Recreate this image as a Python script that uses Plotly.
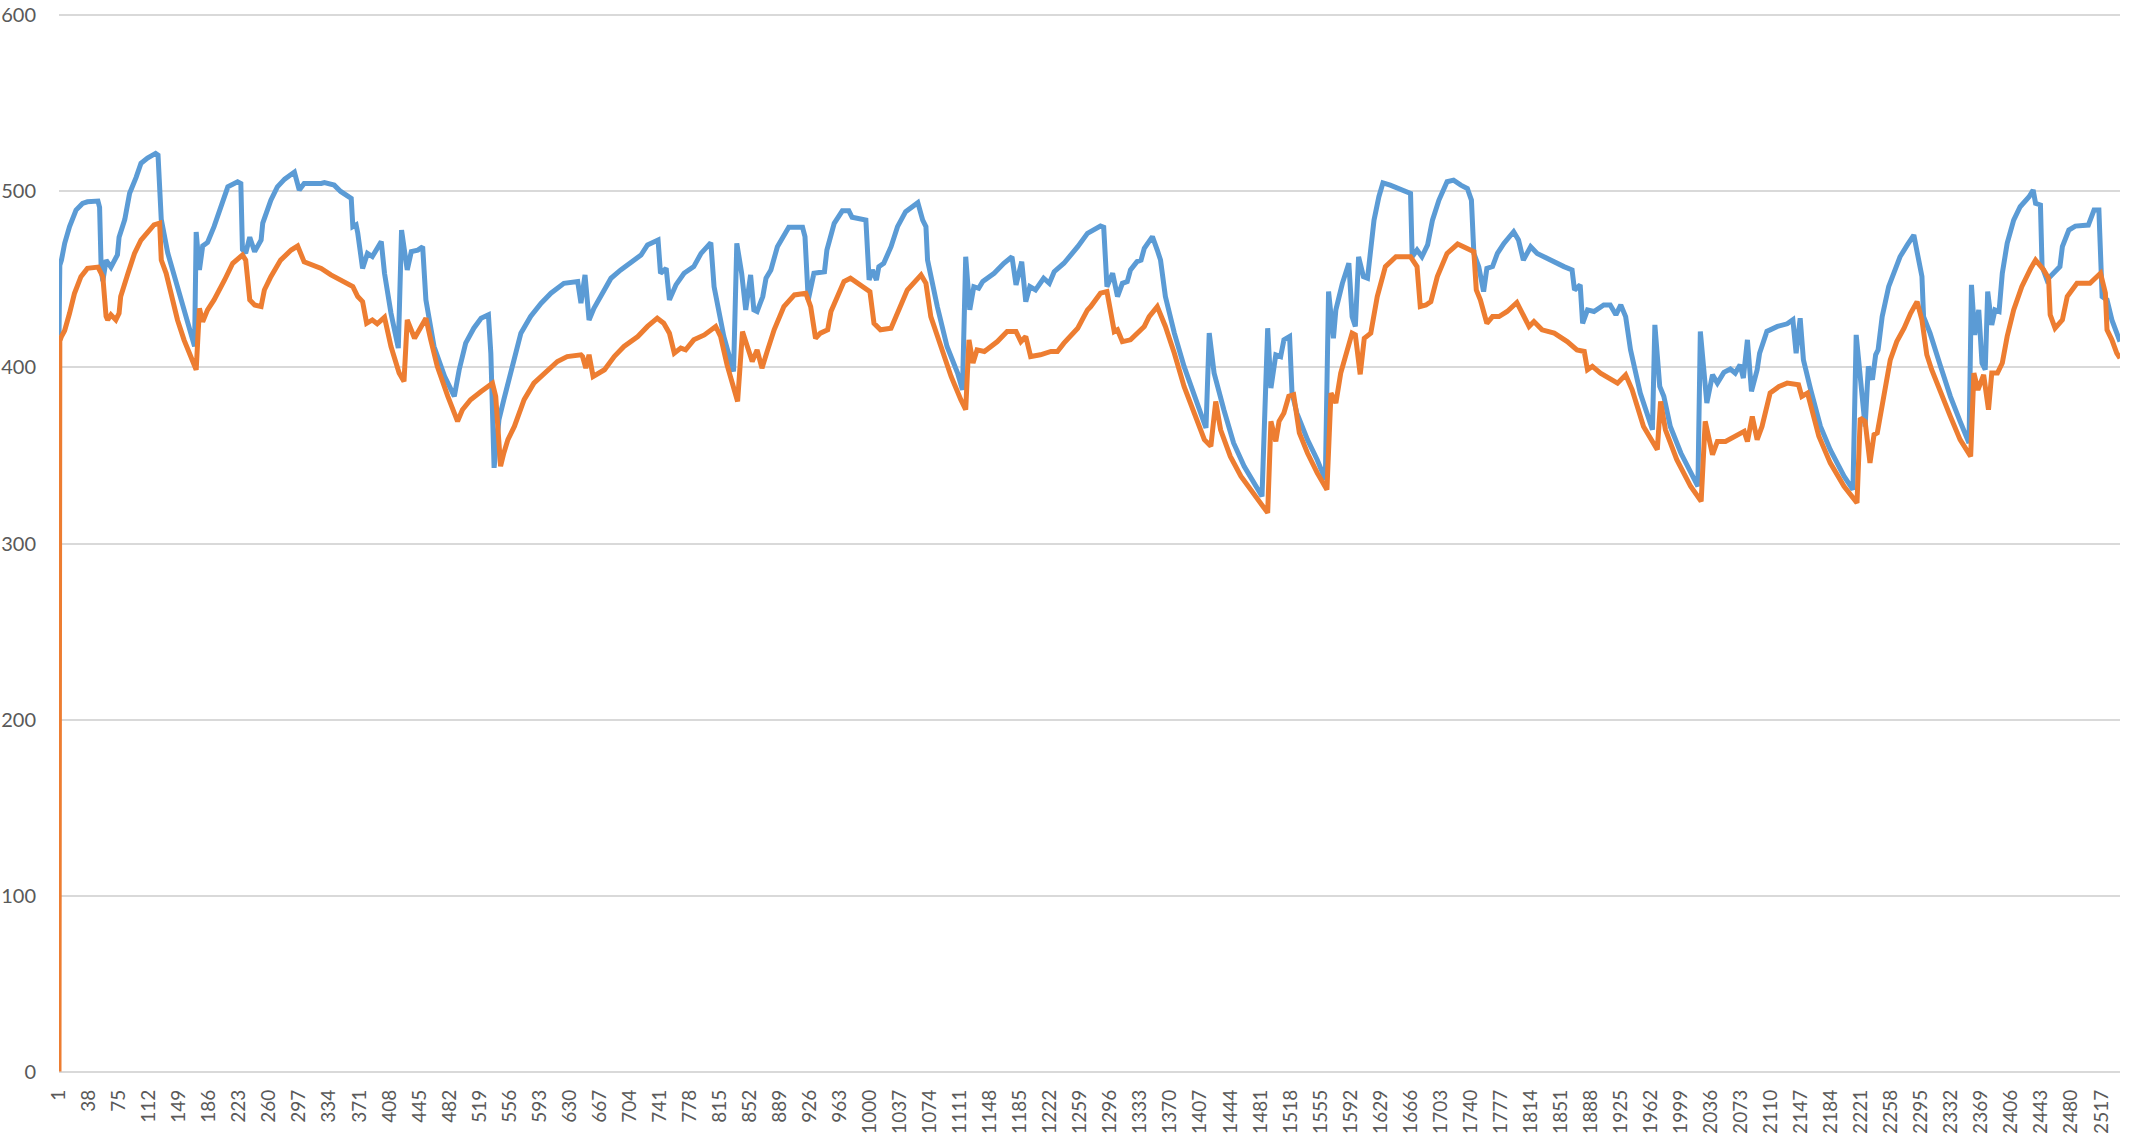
import plotly.graph_objects as go

# ---- data ----
blue_x = [1, 2, 4, 8, 14, 22, 30, 36, 49, 51, 53, 55, 59, 65, 73, 75, 82, 88, 96, 102, 110, 120, 123, 127,
          135, 147, 160, 168, 170, 174, 178, 184, 192, 199, 209, 221, 225, 227, 231, 236, 242, 250, 252,
          262, 270, 279, 291, 297, 303, 324, 328, 340, 348, 361, 363, 367, 369, 375, 381, 387, 398, 402,
          410, 419, 423, 430, 435, 443, 449, 453, 463, 476, 488, 494, 502, 512, 521, 530, 533, 537, 543,
          549, 558, 570, 582, 595, 607, 623, 640, 644, 649, 654, 660, 668, 681, 693, 705, 718, 726, 739,
          742, 749, 753, 761, 771, 783, 792, 804, 808, 820, 832, 836, 842, 847, 853, 857, 861, 868, 872,
          878, 886, 894, 900, 917, 920, 924, 931, 944, 947, 956, 964, 966, 974, 978, 995, 999, 1003, 1008,
          1011, 1017, 1026, 1034, 1044, 1059, 1065, 1069, 1071, 1083, 1095, 1108, 1114, 1118, 1123, 1128,
          1134, 1139, 1153, 1165, 1175, 1180, 1187, 1192, 1197, 1204, 1214, 1221, 1227, 1239, 1256, 1268,
          1284, 1288, 1292, 1299, 1305, 1311, 1317, 1321, 1329, 1334, 1338, 1348, 1354, 1358, 1364, 1375,
          1387, 1399, 1414, 1418, 1424, 1436, 1448, 1461, 1473, 1483, 1490, 1494, 1500, 1506, 1510, 1517,
          1520, 1526, 1539, 1551, 1561, 1565, 1571, 1574, 1582, 1590, 1594, 1598, 1602, 1608, 1613, 1621,
          1627, 1632, 1641, 1654, 1666, 1668, 1674, 1680, 1687, 1693, 1701, 1711, 1719, 1728, 1736, 1741,
          1744, 1750, 1756, 1760, 1767, 1773, 1781, 1793, 1799, 1805, 1814, 1822, 1838, 1855, 1865, 1868,
          1875, 1878, 1884, 1892, 1904, 1912, 1919, 1925, 1931, 1937, 1949, 1964, 1967, 1973, 1978, 1986,
          1999, 2011, 2020, 2023, 2031, 2038, 2044, 2052, 2060, 2066, 2072, 2076, 2081, 2086, 2093, 2096,
          2105, 2118, 2130, 2137, 2141, 2146, 2150, 2159, 2171, 2183, 2200, 2211, 2215, 2226, 2230, 2235,
          2239, 2242, 2247, 2255, 2263, 2269, 2278, 2286, 2292, 2296, 2298, 2306, 2319, 2331, 2343, 2354,
          2357, 2361, 2366, 2370, 2374, 2377, 2382, 2386, 2391, 2395, 2401, 2409, 2417, 2428, 2433, 2436,
          2442, 2444, 2450, 2456, 2460, 2466, 2469, 2477, 2485, 2501, 2508, 2514, 2518, 2524, 2530, 2536,
          2540]
blue_y = [418, 458, 461, 470.5, 480, 489.4, 493.2, 494.1, 494.5, 491, 455.4, 449, 461, 457, 464, 474, 484,
          499, 508, 516, 519, 521.6, 520.6, 484, 465, 446, 427, 412, 477, 455.4, 469, 471, 480, 489, 502.6,
          505.5, 504.5, 467, 465, 474, 465.8, 472.4, 482, 495, 502.6, 507, 511, 500.8, 504.5, 504.5, 505,
          503.6, 500, 496, 480, 481, 476.5, 456.3, 464.8, 463, 471.5, 453.5, 430.8, 411, 478, 455.4, 465.8,
          466.7, 468.6, 438.4, 411.9, 395, 383.6, 398.7, 413.8, 422.3, 428, 429.9, 408, 343, 370.3, 381.7,
          398.7, 419.5, 429, 436.5, 442.2, 447.8, 448.8, 436.5, 452.6, 427, 433.6, 440.3, 450.7, 455.4,
          459.2, 463.9, 469.6, 472.4, 453.5, 456.3, 438.4, 446.9, 453.5, 457.3, 464.8, 470.9, 445.9, 417.6,
          397.7, 470.5, 453.5, 432.7, 452.6, 432.7, 431.8, 440.3, 450.7, 455.4, 468.6, 475.2, 479.6, 479.6,
          474.3, 438.4, 453.5, 454.4, 466.7, 481.9, 488.5, 489, 489, 485.3, 483.7, 449.7, 455.4, 449.7,
          457.3, 459.2, 468.6, 480, 488.5, 493.6, 483.7, 480, 461, 434.6, 411.9, 396.8, 387.3, 462.9, 432.7,
          445.9, 445, 448.8, 453.5, 459.2, 462.9, 446.9, 460.1, 437.4, 445.9, 444, 450.7, 447.8, 454.4,
          459.2, 468.6, 476.2, 480.3, 479.6, 445.9, 453.5, 440.3, 447.8, 448.8, 455.4, 460.1, 461, 467.7,
          474.3, 466.7, 461, 440.3, 419.5, 400.6, 385.5, 365.6, 419.5, 396.8, 376, 357.1, 343.9, 334.4,
          326.8, 422.3, 388.3, 407.2, 406.2, 415.7, 417.6, 385.5, 374.1, 359, 347.6, 336.3, 443.1, 416.6,
          432.7, 447.8, 459.2, 428.9, 423.3, 462.9, 451.6, 450.7, 483.7, 497, 504.9, 503.6, 501.1, 498.9,
          462.9, 466.7, 462.9, 469.6, 483.7, 495.1, 505.5, 506.4, 503.6, 501.7, 495.1, 464.8, 457.3, 443.1,
          456.3, 457.3, 464.8, 470.5, 477.1, 472.4, 461, 468.6, 464.8, 461, 457.3, 455.4, 444, 446.9, 425.1,
          432.7, 431.8, 435.5, 435.5, 429.9, 435.5, 428.9, 410, 385.5, 364.6, 424.2, 389.2, 383.6, 366.5,
          351.4, 340.1, 332.5, 420.4, 379.8, 395.8, 391.1, 397.2, 399.1, 396.8, 401.5, 394, 415.7, 386.4,
          398.7, 408.1, 420.5, 423.3, 424.8, 427.1, 408.1, 428, 404.3, 387.3, 366.5, 353.3, 338.2, 330.6,
          418.5, 366.5, 400.6, 393, 407.2, 410, 428.9, 445.9, 455.4, 462.9, 469.6, 475.2, 461, 451.6, 428.9,
          419.5, 400.6, 383.6, 369.4, 357.1, 446.9, 418.5, 432.7, 402.5, 398.7, 443.1, 424.2, 432.7, 431.8,
          453.5, 470.5, 483.7, 491.3, 497, 500.8, 493.2, 492.3, 457.3, 449.7, 452.6, 455.4, 457.3, 468.6,
          478.1, 480.3, 480.9, 489.4, 489.4, 440.3, 438.4, 427, 419.5, 414.7]

orange_x = [1, 2, 4, 8, 14, 20, 28, 36, 49, 55, 59, 61, 65, 71, 75, 77, 86, 94, 102, 110, 118, 125, 127,
            133, 139, 147, 155, 164, 170, 174, 178, 184, 192, 205, 215, 227, 231, 236, 242, 250, 254, 262,
            274, 287, 295, 303, 316, 324, 336, 348, 363, 369, 375, 380, 387, 393, 402, 410, 420, 426, 430,
            439, 445, 453, 459, 467, 480, 492, 498, 508, 521, 535, 539, 545, 549, 554, 562, 574, 586, 599,
            615, 627, 644, 646, 650, 654, 659, 673, 685, 697, 714, 726, 738, 746, 753, 759, 767, 773, 783,
            796, 810, 816, 824, 837, 843, 849, 855, 861, 867, 874, 882, 894, 907, 921, 927, 933, 939, 948,
            952, 960, 968, 976, 985, 1000, 1005, 1013, 1026, 1034, 1046, 1063, 1069, 1075, 1087, 1100, 1112,
            1118, 1122, 1127, 1132, 1141, 1157, 1169, 1180, 1186, 1192, 1198, 1210, 1223, 1231, 1239, 1256,
            1268, 1272, 1284, 1292, 1301, 1305, 1311, 1321, 1329, 1338, 1344, 1354, 1364, 1375, 1387, 1399,
            1412, 1420, 1426, 1432, 1444, 1457, 1469, 1481, 1490, 1494, 1500, 1504, 1510, 1516, 1522, 1529,
            1539, 1551, 1563, 1568, 1574, 1580, 1588, 1594, 1598, 1604, 1609, 1617, 1625, 1635, 1648, 1666,
            1674, 1678, 1685, 1691, 1699, 1711, 1724, 1734, 1744, 1747, 1752, 1760, 1767, 1775, 1785, 1797,
            1812, 1818, 1828, 1843, 1859, 1871, 1880, 1884, 1890, 1900, 1912, 1921, 1931, 1939, 1953, 1964,
            1970, 1974, 1980, 1994, 2011, 2024, 2029, 2038, 2044, 2054, 2068, 2077, 2081, 2087, 2093, 2099,
            2109, 2120, 2130, 2144, 2148, 2155, 2169, 2183, 2200, 2216, 2220, 2226, 2232, 2237, 2241, 2245,
            2251, 2257, 2265, 2274, 2282, 2290, 2296, 2302, 2308, 2319, 2331, 2343, 2356, 2360, 2365, 2372,
            2378, 2382, 2389, 2395, 2401, 2409, 2419, 2430, 2436, 2446, 2452, 2454, 2460, 2469, 2475, 2487,
            2503, 2516, 2522, 2524, 2530, 2536, 2540]
orange_y = [0, 415, 417.6, 421, 430.8, 442, 451.6, 456.3, 457, 451.6, 429, 427, 429.9, 427, 430.8, 440.3,
            453.5, 464.8, 472.4, 477, 481, 482, 461, 453.5, 442, 427, 415.7, 406.2, 398.7, 433.6, 426, 432.7,
            438.4, 449.7, 459.2, 463.9, 461, 438.4, 435.5, 434.6, 444, 451.6, 461, 466.7, 469, 460, 457.8,
            456.3, 452.6, 449.7, 445.9, 440.3, 437.4, 425.1, 427, 424.8, 428.5, 411.9, 396.8, 392.1, 427,
            416.6, 421.4, 428, 415.7, 400.6, 383.6, 369.4, 376, 381.7, 386.4, 391.1, 383.6, 343.9, 351.4, 359,
            366.5, 381.7, 391.1, 396.8, 403.4, 406.2, 407.2, 406.2, 399.6, 407.2, 394.9, 398.7, 406.2, 411.9,
            417.6, 423.3, 428, 425.1, 419.5, 408.1, 411, 410, 415.7, 418.5, 423.3, 417.6, 401.5, 380.7, 420.4,
            411.9, 403.4, 410, 399.6, 410, 421.4, 434.6, 441.2, 442.2, 434.6, 416.6, 419.5, 421.4, 431.8,
            440.3, 448.8, 450.7, 447.8, 443.1, 425.1, 421.4, 422.3, 430.8, 444, 452.6, 447.8, 428.9, 411.9,
            394.9, 381.7, 376, 415.7, 402.5, 410, 409.1, 414.7, 420.4, 420.4, 414.7, 417.6, 406.2, 407.2,
            409.1, 409.1, 413.8, 422.3, 432.7, 434.6, 442.2, 443.1, 420.4, 421.4, 414.7, 415.7, 419.5, 423.3,
            428.9, 434.6, 423.3, 408.1, 389.2, 374.1, 359, 355.2, 380.7, 364.6, 349.5, 338.2, 330.6, 322.1,
            317.4, 369.4, 358, 369.4, 374.1, 383.6, 384.5, 362.8, 351.4, 340.1, 330.6, 385.5, 379.8, 396.8,
            409.9, 419.5, 418.5, 396.1, 416.6, 419.5, 440.3, 457.3, 462.9, 462.9, 457.3, 434.6, 435.5, 437.4,
            451.6, 464.8, 470.1, 467.7, 465.8, 444, 438.4, 425.1, 428.9, 428.9, 431.8, 436.9, 423.3, 426.1,
            421.4, 419.5, 414.7, 410, 409.1, 398.7, 400.6, 396.8, 393.9, 391.1, 395.8, 387.3, 366.5, 357.1,
            353.3, 380.7, 364.6, 347.6, 332.5, 324, 369.4, 350.5, 358, 358, 361.8, 363.7, 358, 372.2, 359,
            366.5, 385.5, 389.2, 391.1, 390.2, 383.6, 385.5, 360.9, 345.8, 332.5, 323.1, 371.3, 369.4, 345.8,
            361.8, 362.8, 373.2, 389.2, 404.3, 414.7, 422.3, 430.8, 437.4, 427, 407.2, 398.7, 385.5, 372.2,
            359, 349.5, 396.8, 387.3, 395.8, 376, 396.8, 396.8, 402.5, 417.6, 432.7, 445.9, 456.3, 461,
            455.4, 450.7, 429.9, 422.3, 427, 440.3, 447.8, 447.8, 453.5, 442.2, 421.4, 415.7, 408.1, 405.3]

tick_labels = ["1", "38", "75", "112", "149", "186", "223", "260", "297", "334", "371", "408", "445",
               "482", "519", "556", "593", "630", "667", "704", "741", "778", "815", "852", "889", "926",
               "963", "1000", "1037", "1074", "1111", "1148", "1185", "1222", "1259", "1296", "1333",
               "1370", "1407", "1444", "1481", "1518", "1555", "1592", "1629", "1666", "1703", "1740",
               "1777", "1814", "1851", "1888", "1925", "1962", "1999", "2036", "2073", "2110", "2147",
               "2184", "2221", "2258", "2295", "2332", "2369", "2406", "2443", "2480", "2517"]
tick_vals = [int(t) for t in tick_labels]
n_points = 2540

BLUE = "#5B9BD5"
ORANGE = "#ED7D31"
GRID = "#D9D9D9"
TXT = "#595959"
FONT = "Lato, Open Sans, Liberation Sans, sans-serif"

fig = go.Figure()
fig.add_trace(go.Scatter(x=blue_x, y=blue_y, mode="lines", name="Series1",
                         line=dict(color=BLUE, width=5)))
fig.add_trace(go.Scatter(x=orange_x, y=orange_y, mode="lines", name="Series2",
                         line=dict(color=ORANGE, width=5)))

fig.update_layout(
    width=2134, height=1137,
    margin=dict(l=59, r=14, t=14, b=64, autoexpand=False),
    paper_bgcolor="white", plot_bgcolor="white",
    showlegend=False,
    font=dict(family=FONT, color=TXT, size=20),
)
fig.update_xaxes(
    range=[1, n_points], tickmode="array", tickvals=tick_vals, ticktext=tick_labels,
    tickangle=-90, showgrid=False, zeroline=False, showline=False, ticks="",
    automargin=False, ticklabelstandoff=12, ticklabeloverflow="allow",
    tickfont=dict(family=FONT, size=19, color=TXT),
)
fig.update_yaxes(
    range=[-0.8, 600.8], tickmode="array", tickvals=[0, 100, 200, 300, 400, 500, 600],
    showgrid=True, gridcolor=GRID, gridwidth=1.5,
    zeroline=False, showline=False, ticks="", automargin=False, ticklabelstandoff=22,
    ticklabeloverflow="allow",
    tickfont=dict(family=FONT, size=20, color=TXT),
)

fig.write_html("out.html", config={"displayModeBar": False},
               post_script="document.body.style.margin='0';")
